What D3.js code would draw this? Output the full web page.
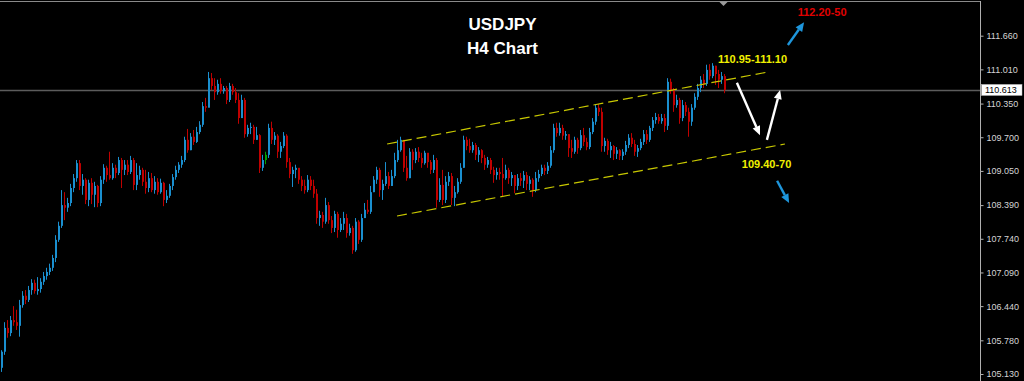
<!DOCTYPE html>
<html><head><meta charset="utf-8">
<script src="https://cdn.jsdelivr.net/npm/d3@7/dist/d3.min.js"></script>
<style>html,body{margin:0;padding:0;background:#000;overflow:hidden}</style>
</head><body><svg id="c" width="1024" height="381"></svg>
<script>
// ---- data (USDJPY H4 candles) ----
const firstOpen = 105.25;
const closes = [105.56,106.02,105.92,106.17,106.13,106.06,106.46,106.64,106.56,106.75,
106.89,106.73,106.77,106.91,107.02,107.10,107.18,107.37,107.72,107.99,
108.39,108.34,108.43,108.72,108.91,109.20,108.76,108.88,108.49,108.82,
108.59,108.76,108.43,108.88,109.11,108.97,108.91,109.11,109.01,109.26,
109.07,109.17,109.03,109.26,108.78,108.97,109.07,108.84,108.72,108.91,
108.68,108.84,108.64,108.82,108.49,108.57,108.76,108.93,109.07,109.17,
109.26,109.65,109.45,109.71,109.61,109.80,109.94,110.30,110.27,110.84,
110.69,110.57,110.73,110.59,110.65,110.42,110.69,110.57,110.42,110.07,
110.42,109.76,109.88,109.90,109.65,109.74,109.11,109.26,109.36,109.88,
109.65,109.73,109.42,109.53,109.73,109.22,108.99,109.07,109.11,108.88,
108.76,108.68,108.88,108.76,108.61,108.14,108.20,108.07,108.39,108.10,
107.95,108.22,107.91,108.03,108.14,107.85,107.95,107.52,108.07,107.72,
108.14,108.30,108.26,108.64,108.88,109.07,108.68,108.80,108.95,108.76,
108.95,109.26,109.45,109.65,109.11,108.91,109.42,109.26,109.42,109.30,
109.20,109.40,109.22,109.07,109.26,108.49,108.78,108.49,108.84,108.95,
108.53,108.64,108.84,109.11,109.65,109.53,109.45,109.55,109.36,109.45,
109.30,109.17,109.26,109.07,108.97,109.03,108.99,108.91,109.07,108.91,
108.97,108.76,108.91,108.86,108.97,108.80,108.88,108.68,108.91,108.99,
109.11,109.05,109.15,109.45,109.88,109.78,109.88,109.73,109.76,109.49,
109.42,109.65,109.49,109.74,109.61,109.51,109.80,110.00,110.27,110.19,
109.53,109.63,109.45,109.53,109.38,109.45,109.34,109.42,109.55,109.69,
109.57,109.42,109.49,109.61,109.76,109.65,109.88,110.03,110.09,110.01,
110.07,109.92,110.77,110.61,110.32,110.42,110.07,110.32,110.19,110.00,
110.27,110.48,110.65,110.81,110.73,111.00,110.88,111.08,110.92,110.81,
110.88,110.61];
const highs = [105.59,106.13,106.17,106.25,106.44,106.37,106.56,106.73,106.75,106.83,
106.96,106.95,107.00,106.98,107.10,107.18,107.26,107.43,107.81,108.07,
108.68,108.64,108.53,108.80,108.99,109.26,109.26,108.99,108.91,108.88,
108.91,108.84,108.78,108.95,109.18,109.15,109.42,109.20,109.17,109.32,
109.30,109.26,109.26,109.34,109.30,109.20,109.15,109.11,109.07,109.03,
109.01,108.95,108.91,108.90,108.84,108.68,108.80,108.99,109.15,109.22,
109.34,109.71,109.86,109.78,109.84,109.90,110.01,110.38,110.46,110.96,
110.94,110.84,110.81,110.84,110.69,110.69,110.75,110.73,110.65,110.55,
110.52,110.46,109.94,109.98,109.94,109.90,109.76,109.36,109.42,109.96,
110.00,109.80,109.76,109.61,109.80,109.76,109.30,109.13,109.17,109.03,
108.95,108.88,108.97,108.95,108.88,108.70,108.28,108.26,108.53,108.45,
108.18,108.28,108.26,108.14,108.26,108.22,108.03,107.99,108.14,108.10,
108.22,108.43,108.49,108.76,108.95,109.13,109.11,108.88,109.22,109.03,
109.07,109.40,109.65,109.71,109.59,109.34,109.49,109.47,109.49,109.51,
109.40,109.44,109.38,109.26,109.36,109.30,108.91,109.07,108.95,109.03,
109.01,108.76,108.91,109.20,109.73,109.71,109.67,109.61,109.59,109.51,
109.47,109.36,109.32,109.30,109.13,109.11,109.11,109.30,109.17,109.11,
109.03,108.97,108.99,109.01,109.05,109.03,108.95,108.91,109.03,109.07,
109.17,109.17,109.22,109.53,109.96,109.98,109.98,109.94,109.82,109.76,
109.65,109.71,109.69,109.84,109.88,109.69,109.88,110.07,110.34,110.34,
110.27,109.69,109.67,109.61,109.55,109.51,109.47,109.47,109.63,109.76,
109.78,109.65,109.55,109.67,109.84,109.84,109.92,110.09,110.17,110.15,
110.15,110.15,110.84,110.83,110.65,110.52,110.46,110.42,110.38,110.27,
110.34,110.55,110.73,110.88,110.92,111.10,111.11,111.13,111.08,111.00,
110.96,110.92];
const lows = [105.17,105.50,105.83,105.86,106.06,105.98,105.85,106.41,106.48,106.52,
106.66,106.68,106.66,106.70,106.85,106.95,107.04,107.12,107.29,107.68,
107.95,108.10,108.26,108.37,108.64,108.84,108.68,108.59,108.41,108.37,
108.41,108.35,108.35,108.37,108.80,108.84,108.88,108.88,108.91,108.97,
108.72,108.97,108.97,108.99,108.68,108.68,108.88,108.76,108.61,108.64,
108.64,108.61,108.59,108.61,108.37,108.43,108.53,108.68,108.88,109.01,
109.11,109.22,109.40,109.45,109.55,109.59,109.76,109.90,110.19,110.34,
110.61,110.42,110.52,110.54,110.54,110.34,110.38,110.52,110.36,109.96,
110.09,109.69,109.71,109.76,109.57,109.65,109.01,109.05,109.18,109.30,
109.57,109.55,109.30,109.30,109.49,109.11,108.91,108.74,108.91,108.80,
108.66,108.61,108.64,108.68,108.53,108.03,107.99,107.95,108.03,108.03,
107.85,107.87,107.76,107.87,107.91,107.76,107.80,107.45,107.49,107.64,
107.68,108.14,108.22,108.22,108.64,108.80,108.55,108.49,108.76,108.70,
108.76,108.91,109.22,109.42,109.03,108.86,108.91,109.07,109.20,109.22,
109.11,109.17,109.11,108.99,109.01,108.34,108.45,108.39,108.43,108.76,
108.39,108.37,108.61,108.80,109.11,109.45,109.40,109.40,109.26,109.22,
109.20,109.07,109.11,108.99,108.82,108.88,108.88,108.55,108.88,108.80,
108.76,108.62,108.68,108.76,108.72,108.68,108.68,108.55,108.64,108.84,
108.95,108.97,108.99,109.11,109.40,109.71,109.73,109.65,109.65,109.32,
109.30,109.38,109.38,109.45,109.53,109.45,109.47,109.76,109.94,110.11,
109.42,109.42,109.36,109.30,109.26,109.28,109.26,109.26,109.36,109.49,
109.51,109.34,109.32,109.45,109.55,109.57,109.61,109.82,109.96,109.96,
109.96,109.80,109.84,110.54,110.19,110.27,109.96,110.01,110.11,109.71,
109.92,110.23,110.42,110.57,110.65,110.69,110.81,110.84,110.71,110.65,
110.73,110.55];
const greenBars = [88];
const tickValues = [111.66,111.01,110.35,109.70,109.05,108.39,107.74,107.09,106.44,105.78,105.13];
const currentPrice = 110.613;
const titleLines = ["USDJPY","H4 Chart"];
const channelUpper = [[128.7,109.57],[255.7,110.96]];
const channelLower = [[132.0,108.18],[261.3,109.57]];
const targetTexts = ["112.20-50","110.95-111.10","109.40-70"];
const targetAnchors = [[273.7,112.04],[250.5,111.14],[255.2,109.11]];
const targetColors = ["#e00000","#f0f000","#f0f000"];
const arrowFrom = [[262.3,111.48],[245.3,110.75],[255.3,109.65],[258.7,108.86]];
const arrowTo   = [[267.7,111.92],[253.0,109.74],[259.7,110.61],[262.7,108.43]];
const arrowColors = ["#1e96dc","#ffffff","#ffffff","#1e96dc"];

// ---- drawing ----
const W = 1024, H = 381, axisX = 980;
const svg = d3.select("#c");
svg.append("rect").attr("width",W).attr("height",H).attr("fill","#000");

const x = d3.scaleLinear().domain([0, closes.length-1]).range([1, 724]);
const y = d3.scaleLinear().domain([105.13, 111.66]).range([374, 35.7]);

const candles = closes.map((c,i)=>({i, o: i===0?firstOpen:closes[i-1], h: highs[i], l: lows[i], c}));

// frame
svg.append("line").attr("x1",0).attr("x2",axisX).attr("y1",1.5).attr("y2",1.5).attr("stroke","#8a8a8a");
svg.append("line").attr("x1",axisX+0.5).attr("x2",axisX+0.5).attr("y1",1).attr("y2",H).attr("stroke","#b0b0b0");
svg.append("path").attr("d","M719,1.5 L728,1.5 L723.5,6 Z").attr("fill","#9a9a9a");

// current price line
svg.append("line").attr("x1",0).attr("x2",axisX).attr("y1",Math.round(y(currentPrice))+0.5).attr("y2",Math.round(y(currentPrice))+0.5)
  .attr("stroke","#5c5c5c").attr("stroke-width",1.3);

// candles
const colorOf = d => greenBars.includes(d.i) ? "#00a000" : (d.c >= d.o ? "#1a8fcf" : "#c00000");
const g = svg.append("g");
g.selectAll("line.w").data(candles).join("line")
  .attr("x1",d=>Math.round(x(d.i))+0.5).attr("x2",d=>Math.round(x(d.i))+0.5)
  .attr("y1",d=>y(d.h)).attr("y2",d=>y(d.l)).attr("stroke",colorOf).attr("stroke-width",1);
g.selectAll("rect.b").data(candles).join("rect")
  .attr("x",d=>Math.round(x(d.i))).attr("width",2)
  .attr("y",d=>Math.min(y(d.o),y(d.c))).attr("height",d=>Math.max(1,Math.abs(y(d.o)-y(d.c))))
  .attr("fill",colorOf);

// channel
[channelUpper, channelLower].forEach(seg=>{
  svg.append("line").attr("x1",x(seg[0][0])).attr("y1",y(seg[0][1])).attr("x2",x(seg[1][0])).attr("y2",y(seg[1][1]))
    .attr("stroke","#c8c800").attr("stroke-width",1.2).attr("stroke-dasharray","10,5");
});

// arrows
arrowFrom.forEach((f,k)=>{
  const x0=x(f[0]), y0=y(f[1]), x1=x(arrowTo[k][0]), y1=y(arrowTo[k][1]);
  const ang=Math.atan2(y1-y0,x1-x0), len=9, wid=4;
  const bx=x1-len*Math.cos(ang), by=y1-len*Math.sin(ang);
  svg.append("line").attr("x1",x0).attr("y1",y0).attr("x2",bx).attr("y2",by)
    .attr("stroke",arrowColors[k]).attr("stroke-width",2.4);
  const px=-Math.sin(ang)*wid, py=Math.cos(ang)*wid;
  svg.append("path").attr("d",`M${x1},${y1} L${bx+px},${by+py} L${bx-px},${by-py} Z`).attr("fill",arrowColors[k]);
});

// target texts
targetTexts.forEach((t,k)=>{
  svg.append("text").attr("x",x(targetAnchors[k][0])).attr("y",y(targetAnchors[k][1]))
    .attr("text-anchor","middle").attr("fill",targetColors[k])
    .attr("font-family","Liberation Sans, Arial, sans-serif").attr("font-weight","bold").attr("font-size",11).text(t);
});

// title
titleLines.forEach((t,k)=>{
  svg.append("text").attr("x",502.5).attr("y",k===0?29.5:53.5).attr("text-anchor","middle").attr("fill","#ffffff")
    .attr("font-family","Liberation Sans, Arial, sans-serif").attr("font-weight","bold").attr("font-size",17).text(t);
});

// price axis
const ax = svg.append("g").attr("transform",`translate(${axisX+0.5},0)`)
  .call(d3.axisRight(y).tickValues(tickValues).tickFormat(d3.format(".3f")).tickSize(3).tickPadding(3));
ax.select(".domain").remove();
ax.selectAll(".tick line").attr("stroke","#b0b0b0");
ax.selectAll(".tick text").attr("fill","#d4d4d4").attr("font-family","Liberation Sans, Arial, sans-serif").attr("font-size",9);

// current price label
const cy = y(currentPrice);
svg.append("rect").attr("x",981.5).attr("y",cy-5.5).attr("width",40.5).attr("height",11).attr("fill","#ffffff").attr("stroke","#bbbbbb").attr("stroke-width",0.5);
svg.append("text").attr("x",985).attr("y",cy).attr("dy","0.34em").attr("fill","#000")
  .attr("font-family","Liberation Sans, Arial, sans-serif").attr("font-size",9).text(d3.format(".3f")(currentPrice));
</script></body></html>
